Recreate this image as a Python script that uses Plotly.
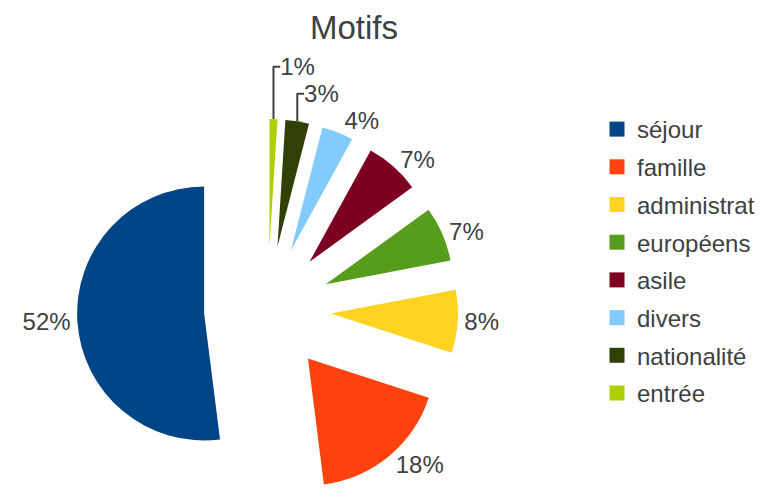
import plotly.graph_objects as go

# Motifs data
motifs = ["séjour", "famille", "administrat", "européens", "asile",
          "divers", "nationalité", "entrée"]
parts = [52, 18, 8, 7, 7, 4, 3, 1]
colors = ["#004586", "#ff420e", "#ffd320", "#579d1c", "#7e0021",
          "#83caff", "#314004", "#aecf00"]

TEXT = "#404040"
FONT = "Liberation Sans, Arial, sans-serif"

W, H = 765, 500

# first slice begins at 12 o'clock and runs counter-clockwise
start_rotation = 360 * (1 - parts[0] / sum(parts))

fig = go.Figure()

# Exploded pie: every slice pulled out by half the radius
fig.add_trace(go.Pie(
    labels=motifs,
    values=parts,
    marker=dict(colors=colors, line=dict(width=0)),
    sort=False,
    direction="counterclockwise",
    rotation=start_rotation,
    pull=[0.5] * len(parts),
    textposition="outside",
    texttemplate="%{percent:.0%}",
    textfont=dict(family=FONT, size=24, color=TEXT),
    showlegend=False,
    domain=dict(x=[77 / W, 458 / W], y=[0, 381 / H]),
    hoverinfo="label+percent",
))

# Legend entries: one square marker per motif, spaced as separate groups
for name, col in zip(motifs, colors):
    fig.add_trace(go.Scatter(
        x=[None], y=[None], mode="markers", name=name,
        legendgroup=name,
        marker=dict(symbol="square", size=15, color=col),
        hoverinfo="skip",
    ))

fig.update_layout(
    width=W, height=H,
    margin=dict(l=0, r=0, t=0, b=0, autoexpand=False),
    paper_bgcolor="white",
    plot_bgcolor="white",
    xaxis=dict(visible=False),
    yaxis=dict(visible=False),
    title=dict(
        text="Motifs",
        x=354 / W, xanchor="center",
        y=1 - 27 / H, yanchor="middle",
        yref="container",
        font=dict(family=FONT, size=33, color=TEXT),
    ),
    legend=dict(
        x=597 / W, xanchor="left",
        y=1 - 107 / H, yanchor="top",
        font=dict(family=FONT, size=24, color=TEXT),
        tracegroupgap=3.5,
        maxheight=400,
        itemclick=False,
        bgcolor="rgba(0,0,0,0)",
    ),
    showlegend=True,
)

fig.write_html("out.html")
